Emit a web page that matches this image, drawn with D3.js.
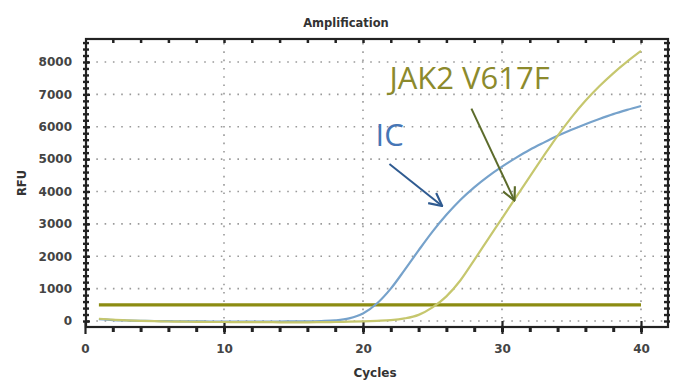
<!DOCTYPE html>
<html>
<head>
<meta charset="utf-8">
<style>
  * { margin: 0; padding: 0; }
  body { background: #fff; width: 680px; height: 381px; overflow: hidden; }
  text { font-family: 'DejaVu Sans', sans-serif; }
  .axis path { display: none; }
  .axis text { font-size: 12px; font-weight: bold; fill: #444; }
  .axis line { stroke: #222; }
  .grid line { stroke: #9a9a9a; stroke-width: 1.6; stroke-dasharray: 1.6,6.7; }
  .note { font-family: 'Open Sans', sans-serif; font-size: 31px; }
</style>
</head>
<body>
<div class="chart"></div>
<script src="https://cdn.jsdelivr.net/npm/d3@7"></script>
<script>
  // cycles 1..40
  let cycles = d3.range(1, 41);
  let icRfu = [60, 30, 15, 5, 0, -5, -10, -12, -15, -15,
    -15, -15, -15, -15, -12, -10, 0, 20, 80, 230,
    540, 1000, 1580, 2180, 2760, 3280, 3740, 4130, 4470, 4770,
    5040, 5290, 5510, 5720, 5910, 6080, 6240, 6390, 6520, 6640];
  let jakRfu = [70, 40, 20, 5, -5, -15, -20, -25, -30, -30,
    -35, -35, -35, -40, -40, -40, -35, -30, -20, -10,
    5, 25, 80, 190, 420, 760, 1250, 1880, 2530, 3170,
    3820, 4460, 5100, 5720, 6290, 6800, 7250, 7650, 8010, 8340];
  let threshold = 500;
  let xTicks = [0, 10, 20, 30, 40];
  let yTicks = [0, 1000, 2000, 3000, 4000, 5000, 6000, 7000, 8000];

  let width = 680, height = 381;
  let pLeft = 86, pRight = 668, pTop = 39, pBottom = 327;

  let x = d3.scaleLinear().domain([0, 42]).range([85, 668.8]);
  let y = d3.scaleLinear().domain([-185, 8710]).range([pBottom, pTop]);

  let svg = d3.select('.chart').append('svg')
    .attr('width', width).attr('height', height);

  // grid
  svg.append('g').attr('class', 'grid')
    .selectAll('line').data(yTicks).enter().append('line')
    .attr('x1', pLeft + 2).attr('x2', pRight)
    .attr('y1', d => y(d)).attr('y2', d => y(d));
  svg.append('g').attr('class', 'grid')
    .selectAll('line').data(xTicks.slice(1)).enter().append('line')
    .attr('x1', d => x(d)).attr('x2', d => x(d))
    .attr('y1', pTop + 4).attr('y2', pBottom);

  // frame
  svg.append('rect')
    .attr('x', pLeft).attr('y', pTop)
    .attr('width', pRight - pLeft).attr('height', pBottom - pTop)
    .attr('fill', 'none').attr('stroke', '#222').attr('stroke-width', 2.2);

  // minor ticks
  let minorX = d3.range(2, 42, 2);
  let minorY = d3.range(0, 8701, 200);

  svg.append('g').attr('class', 'axis')
    .attr('transform', 'translate(0,' + pBottom + ')')
    .call(d3.axisBottom(x).tickValues(minorX).tickFormat(''))
    .selectAll('line').attr('y1', 0).attr('y2', 5).attr('stroke-width', 3);
  svg.append('g').attr('class', 'axis')
    .attr('transform', 'translate(0,' + pTop + ')')
    .call(d3.axisBottom(x).tickValues(minorX).tickFormat(''))
    .selectAll('line').attr('y1', 0).attr('y2', 4).attr('stroke-width', 2.5);
  svg.append('g').attr('class', 'axis')
    .attr('transform', 'translate(' + pLeft + ',0)')
    .call(d3.axisLeft(y).tickValues(minorY).tickFormat(''))
    .selectAll('line').attr('x1', -3).attr('x2', 3).attr('stroke-width', 2.4);
  svg.append('g').attr('class', 'axis')
    .attr('transform', 'translate(' + pRight + ',0)')
    .call(d3.axisLeft(y).tickValues(minorY).tickFormat(''))
    .selectAll('line').attr('x1', -4).attr('x2', 2).attr('stroke-width', 2.4);

  // major axes
  let xAxis = svg.append('g').attr('class', 'axis')
    .attr('transform', 'translate(0,' + pBottom + ')')
    .call(d3.axisBottom(x).tickValues(xTicks).tickSize(7).tickPadding(10)
      .tickFormat(d3.format('d')));
  xAxis.selectAll('line').attr('y1', -6).attr('stroke-width', 2.2);
  let yAxis = svg.append('g').attr('class', 'axis')
    .attr('transform', 'translate(' + pLeft + ',0)')
    .call(d3.axisLeft(y).tickValues(yTicks).tickSize(8).tickPadding(6)
      .tickFormat(d3.format('d')));
  yAxis.selectAll('line').attr('x2', 4).attr('stroke-width', 2.2);

  // curves
  let line = d3.line()
    .x((d, i) => x(cycles[i]))
    .y(d => y(d))
    .curve(d3.curveMonotoneX);

  svg.append('line')
    .attr('x1', x(cycles[0])).attr('x2', x(cycles[cycles.length - 1]))
    .attr('y1', y(threshold)).attr('y2', y(threshold))
    .attr('stroke', '#8c8c12').attr('stroke-width', 3.2);

  svg.append('path').datum(icRfu)
    .attr('d', line).attr('fill', 'none')
    .attr('stroke', '#76a2cb').attr('stroke-width', 2.2);
  svg.append('path').datum(jakRfu)
    .attr('d', line).attr('fill', 'none')
    .attr('stroke', '#c6c76e').attr('stroke-width', 2.2);

  // annotations
  let defs = svg.append('defs');
  function marker(id, color) {
    defs.append('marker')
      .attr('id', id).attr('viewBox', '0 0 14 14')
      .attr('refX', 13).attr('refY', 7)
      .attr('markerWidth', 15).attr('markerHeight', 15)
      .attr('markerUnits', 'userSpaceOnUse')
      .attr('orient', 'auto')
      .append('path').attr('d', 'M1,1 L13,7 L1,13')
      .attr('fill', 'none').attr('stroke', color).attr('stroke-width', 2);
  }
  marker('arrIC', '#2f5b91');
  marker('arrJAK', '#5c6b2b');

  // label positions in chart units (cycle, RFU)
  let icLabel = { cycle: 20.9, rfu: 5400, text: 'IC' };
  let jakLabel = { cycle: 21.9, rfu: 7170, text: 'JAK2 V617F' };
  let icArrow = [[21.9, 4850], [25.7, 3550]];
  let jakArrow = [[27.8, 6560], [30.9, 3720]];

  svg.append('text').attr('class', 'note')
    .attr('x', x(icLabel.cycle)).attr('y', y(icLabel.rfu))
    .attr('fill', '#4676b6').text(icLabel.text);
  svg.append('text').attr('class', 'note')
    .attr('x', x(jakLabel.cycle)).attr('y', y(jakLabel.rfu))
    .attr('fill', '#8c8a2c').text(jakLabel.text);

  svg.append('line')
    .attr('x1', x(icArrow[0][0])).attr('y1', y(icArrow[0][1]))
    .attr('x2', x(icArrow[1][0])).attr('y2', y(icArrow[1][1]))
    .attr('stroke', '#2f5b91').attr('stroke-width', 2)
    .attr('marker-end', 'url(#arrIC)');
  svg.append('line')
    .attr('x1', x(jakArrow[0][0])).attr('y1', y(jakArrow[0][1]))
    .attr('x2', x(jakArrow[1][0])).attr('y2', y(jakArrow[1][1]))
    .attr('stroke', '#5c6b2b').attr('stroke-width', 2)
    .attr('marker-end', 'url(#arrJAK)');

  // titles
  svg.append('text')
    .attr('x', 346).attr('y', 27).attr('text-anchor', 'middle')
    .attr('font-size', 11.5).attr('font-weight', 'bold').attr('fill', '#333')
    .text('Amplification');
  svg.append('text')
    .attr('x', 375).attr('y', 377).attr('text-anchor', 'middle')
    .attr('font-size', 12).attr('font-weight', 'bold').attr('fill', '#333')
    .text('Cycles');
  svg.append('text')
    .attr('transform', 'translate(26,183) rotate(-90)').attr('text-anchor', 'middle')
    .attr('font-size', 11.5).attr('font-weight', 'bold').attr('fill', '#333')
    .text('RFU');
</script>
</body>
</html>
